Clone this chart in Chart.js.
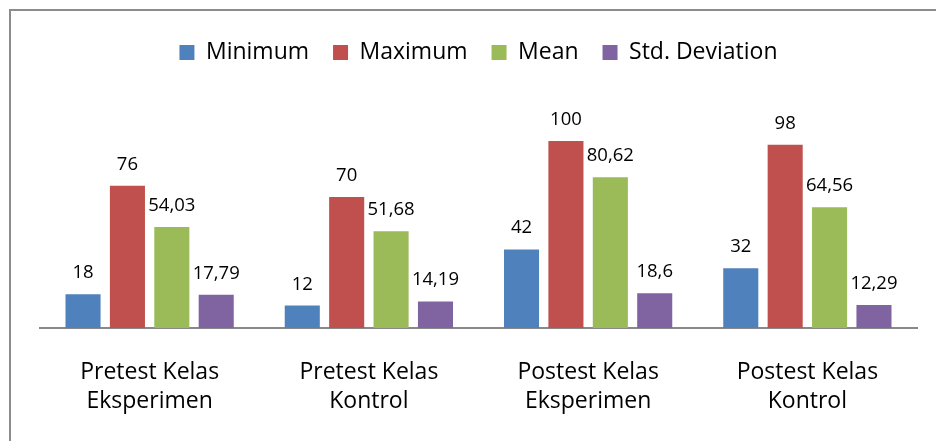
<!DOCTYPE html>
<html>
<head>
<meta charset="utf-8">
<script src="https://cdn.jsdelivr.net/npm/chart.js@4/dist/chart.umd.min.js"></script>
<style>
  html, body { margin: 0; padding: 0; background: #fff; overflow: hidden; }
  #wrap { position: relative; width: 936px; height: 441px; }
  #frame {
    position: absolute; left: 9px; top: 9px; width: 1000px; height: 500px;
    border-left: 2px solid #8c8c8c; border-top: 2px solid #8c8c8c; box-sizing: border-box;
  }
  canvas { position: absolute; left: 0; top: 0; }
</style>
</head>
<body>
<div id="wrap">
  <div id="frame"></div>
  <canvas id="c" width="936" height="441"></canvas>
</div>
<script>
// Descriptive statistics of the test scores per group
const categories = [
  ['Pretest Kelas', 'Eksperimen'],
  ['Pretest Kelas', 'Kontrol'],
  ['Postest Kelas', 'Eksperimen'],
  ['Postest Kelas', 'Kontrol']
];
const minimum = [18, 12, 42, 32];
const maximum = [76, 70, 100, 98];
const mean = [54.03, 51.68, 80.62, 64.56];
const stdDeviation = [17.79, 14.19, 18.6, 12.29];

const FONT = '"Open Sans", "Liberation Sans", sans-serif';

// Writes each bar's value just above it, with a decimal comma
const valueLabels = {
  id: 'valueLabels',
  afterDatasetsDraw(chart) {
    const ctx = chart.ctx;
    ctx.save();
    ctx.font = '18.5px ' + FONT;
    ctx.fillStyle = '#000';
    ctx.textAlign = 'center';
    ctx.textBaseline = 'alphabetic';
    chart.data.datasets.forEach((ds, i) => {
      const meta = chart.getDatasetMeta(i);
      meta.data.forEach((bar, j) => {
        const txt = String(ds.data[j]).replace('.', ',');
        ctx.fillText(txt, bar.x, bar.y - 16);
      });
    });
    ctx.restore();
  }
};

new Chart(document.getElementById('c'), {
  type: 'bar',
  data: {
    labels: categories,
    datasets: [
      { label: 'Minimum', data: minimum, backgroundColor: '#4F81BD' },
      { label: 'Maximum', data: maximum, backgroundColor: '#C0504D' },
      { label: 'Mean', data: mean, backgroundColor: '#9BBB59' },
      { label: 'Std. Deviation', data: stdDeviation, backgroundColor: '#8064A2' }
    ]
  },
  options: {
    responsive: false,
    animation: false,
    devicePixelRatio: 1,
    layout: { padding: { left: 40, right: 19, top: 17, bottom: 0 } },
    datasets: { bar: { categoryPercentage: 0.81, barPercentage: 0.79, borderWidth: 0 } },
    plugins: {
      legend: {
        position: 'top',
        labels: {
          boxWidth: 15, boxHeight: 15, padding: 24, color: '#000',
          font: { family: FONT, size: 23 }
        }
      },
      tooltip: { enabled: false }
    },
    scales: {
      x: {
        grid: { display: false, drawTicks: false },
        border: { display: true, color: '#888', width: 2 },
        ticks: {
          color: '#000', padding: 30, maxRotation: 0, autoSkip: false,
          font: { family: FONT, size: 23, lineHeight: 1.26 }
        },
        afterFit(scale) { scale.height = 113; }
      },
      y: {
        display: false,
        min: 0,
        max: 135.8
      }
    }
  },
  plugins: [valueLabels]
});
</script>
</body>
</html>
